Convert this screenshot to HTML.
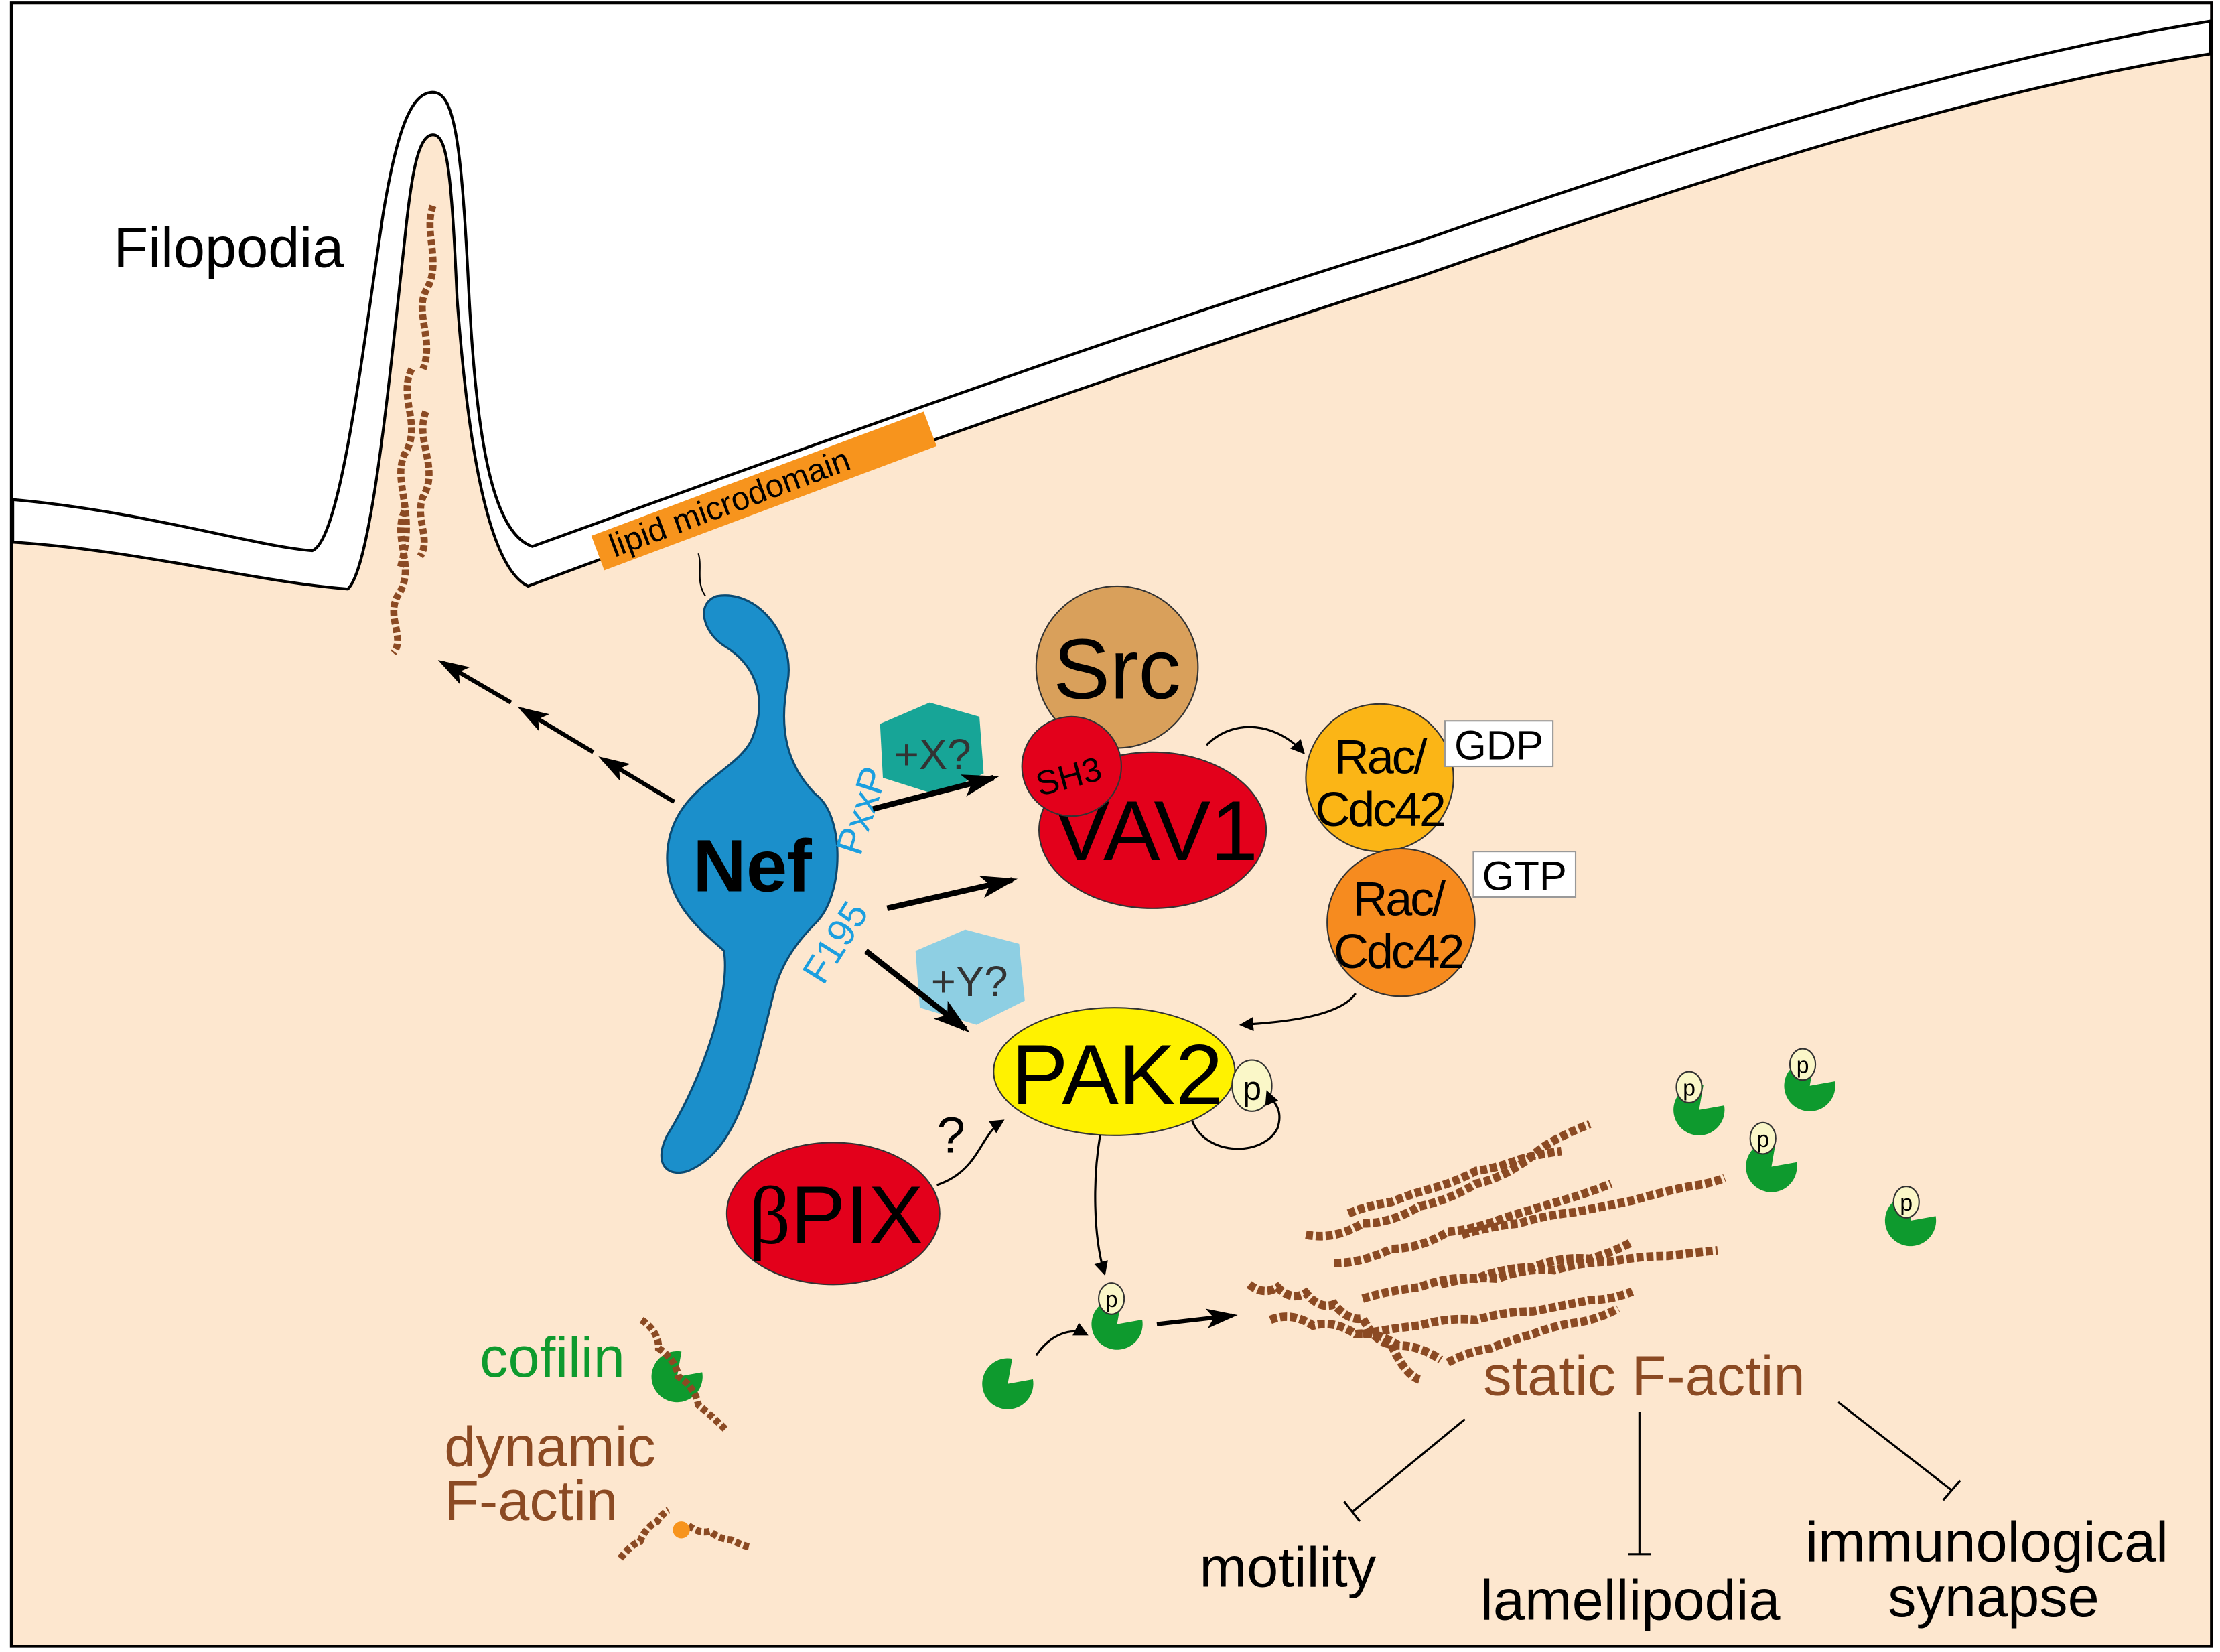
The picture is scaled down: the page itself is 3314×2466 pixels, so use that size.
<!DOCTYPE html>
<html><head><meta charset="utf-8"><style>
html,body{margin:0;padding:0;background:#fff}
svg{display:block}
text{font-family:"Liberation Sans",sans-serif}
</style></head><body>
<svg width="3314" height="2466" viewBox="0 0 1564 1164" preserveAspectRatio="none" xmlns="http://www.w3.org/2000/svg">
<defs>
<marker id="ah" markerWidth="10" markerHeight="10" refX="8" refY="5" orient="auto" markerUnits="userSpaceOnUse"><path d="M0,0 L10,5 L0,10 z" fill="#000"/></marker>
<marker id="ahb" markerWidth="26" markerHeight="20" refX="22" refY="10" orient="auto" markerUnits="userSpaceOnUse"><path d="M0,2 L26,10 L0,18 L6,10 z" fill="#000"/></marker>
<marker id="ahd" markerWidth="22" markerHeight="16" refX="18" refY="8" orient="auto" markerUnits="userSpaceOnUse"><path d="M0,1 L22,8 L0,15 L5,8 z" fill="#000"/></marker>
<path id="cof" d="M0,0 L17.7,-3.1 A18,18 0 1,1 3.1,-17.7 Z" fill="#0E9A2E"/>
</defs>
<rect x="0" y="0" width="1564" height="1164" fill="#fff"/>
<rect x="8" y="2" width="1550" height="1158" fill="#FDE7CF" stroke="#000" stroke-width="2"/>
<path d="M9,3 L1557,3 L1557,15 C1400,40 1200,100 1000,170 C800,230 500,340 375,385 C345,375 335,300 330,200 C325,100 320,65 305,65 C290,65 280,90 270,150 C255,250 240,380 220,388 C180,385 100,360 9,352 Z" fill="#fff"/>
<path d="M9,352 C100,360 180,385 220,388 C240,380 255,250 270,150 C280,90 290,65 305,65 C320,65 325,100 330,200 C335,300 345,375 375,385 C500,340 800,230 1000,170 C1200,100 1400,40 1557,15 L1557,38 C1400,62 1200,125 1000,195 C800,258 500,365 372,413 C345,400 330,320 322,210 C318,120 315,95 305,95 C295,95 290,120 285,170 C275,260 262,400 245,415 C180,410 100,388 9,382 Z" fill="#fff" stroke="#000" stroke-width="2"/>
<text x="80" y="188" font-size="40">Filopodia</text>
<g stroke="#8B4A23" stroke-width="5" fill="none" stroke-dasharray="4 2">
<path d="M305,145 C298,165 312,185 300,205 C292,220 306,240 298,260"/>
<path d="M290,260 C280,280 298,300 285,320 C276,340 294,360 282,400"/>
<path d="M300,290 C292,310 310,330 298,350 C292,365 304,380 296,392"/>
<path d="M285,360 C276,380 294,400 280,420 C272,435 286,450 277,460"/>
</g>
<g transform="translate(425,400) rotate(-20.5)">
<rect x="0" y="-24" width="250" height="26" fill="#F7941D"/>
<text x="10" y="-4" font-size="23">lipid microdomain</text>
</g>
<path d="M492,390 C495,400 490,410 497,420" stroke="#000" fill="none"/>
<g stroke="#000" stroke-width="3" fill="none">
<line x1="475" y1="565" x2="425" y2="535" marker-end="url(#ahd)"/>
<line x1="418" y1="530" x2="368" y2="500" marker-end="url(#ahd)"/>
<line x1="360" y1="495" x2="312" y2="467" marker-end="url(#ahd)"/>
</g>
<path d="M505,420 C490,425 495,445 510,455 C535,470 540,495 530,520 C520,545 470,555 470,605 C470,640 500,660 510,670 C515,700 495,760 470,800 C460,820 470,830 485,825 C520,810 530,760 545,700 C550,680 560,665 575,650 C595,630 595,575 575,560 C555,540 548,515 555,480 C560,450 535,415 505,420 Z" fill="#1B8FCB" stroke="#0b4a72" stroke-width="1.5"/>
<text x="530" y="628" font-size="52" font-weight="bold" text-anchor="middle">Nef</text>
<text transform="translate(606,604) rotate(-72)" font-size="27" fill="#1B9FE0">PxxP</text>
<text transform="translate(580,695) rotate(-58)" font-size="27" fill="#1B9FE0">F195</text>
<circle cx="787" cy="470" r="57" fill="#D9A05B" stroke="#333"/>
<text x="787" y="492" font-size="60" text-anchor="middle">Src</text>
<ellipse cx="812" cy="585" rx="80" ry="55" fill="#E3001B" stroke="#333"/>
<text x="814" y="606" font-size="60" text-anchor="middle">VAV1</text>
<circle cx="755" cy="540" r="35" fill="#E3001B" stroke="#333"/>
<text transform="translate(755,555) rotate(-15)" font-size="24" text-anchor="middle">SH3</text>
<polygon points="620,510 655,495 690,505 693,545 660,560 622,548" fill="#17A597"/>
<text x="657" y="542" font-size="30" fill="#333" text-anchor="middle">+X?</text>
<polygon points="645,670 680,655 718,665 722,705 688,722 648,710" fill="#8ECFE3"/>
<text x="683" y="702" font-size="30" fill="#333" text-anchor="middle">+Y?</text>
<circle cx="972" cy="548" r="52" fill="#FBB516" stroke="#333"/>
<text x="972" y="545" font-size="34" letter-spacing="-1.5" text-anchor="middle">Rac/</text>
<text x="972" y="582" font-size="34" letter-spacing="-1.5" text-anchor="middle">Cdc42</text>
<rect x="1018" y="508" width="76" height="32" fill="#fff" stroke="#999"/>
<text x="1056" y="535" font-size="29" text-anchor="middle">GDP</text>
<circle cx="987" cy="650" r="52" fill="#F68B1F" stroke="#333"/>
<text x="985" y="645" font-size="34" letter-spacing="-1.5" text-anchor="middle">Rac/</text>
<text x="985" y="682" font-size="34" letter-spacing="-1.5" text-anchor="middle">Cdc42</text>
<rect x="1038" y="600" width="72" height="32" fill="#fff" stroke="#999"/>
<text x="1074" y="627" font-size="29" text-anchor="middle">GTP</text>
<ellipse cx="785" cy="755" rx="85" ry="45" fill="#FFF200" stroke="#333"/>
<text x="787" y="778" font-size="60" text-anchor="middle">PAK2</text>
<ellipse cx="882" cy="765" rx="14" ry="18" fill="#FAF7C8" stroke="#333"/>
<text x="882" y="775" font-size="24" text-anchor="middle">p</text>
<ellipse cx="587" cy="855" rx="75" ry="50" fill="#E3001B" stroke="#333"/>
<text x="589" y="876" font-size="58" text-anchor="middle"><tspan font-family="Liberation Serif">β</tspan>PIX</text>
<text x="660" y="812" font-size="36" font-family="Liberation Serif">?</text>
<g stroke="#000" fill="none">
<line x1="615" y1="570" x2="700" y2="548" stroke-width="4" marker-end="url(#ahb)"/>
<line x1="625" y1="640" x2="713" y2="620" stroke-width="4" marker-end="url(#ahb)"/>
<line x1="610" y1="670" x2="680" y2="725" stroke-width="4" marker-end="url(#ahb)"/>
<path d="M850,525 C870,505 900,510 918,530" stroke-width="1.5" marker-end="url(#ah)"/>
<path d="M955,700 C945,715 910,720 875,722" stroke-width="1.5" marker-end="url(#ah)"/>
<path d="M660,835 C690,825 690,800 706,790" stroke-width="1.5" marker-end="url(#ah)"/>
<path d="M840,790 C850,815 890,815 900,795 C905,780 895,775 893,770" stroke-width="1.5" marker-end="url(#ah)"/>
<path d="M775,800 C770,830 770,870 778,897" stroke-width="1.5" marker-end="url(#ah)"/>
<path d="M730,955 C740,940 755,935 765,940" stroke-width="1.5" marker-end="url(#ah)"/>
<line x1="815" y1="933" x2="868" y2="927" stroke-width="3" marker-end="url(#ahd)"/>
<line x1="1032" y1="1000" x2="953" y2="1065" stroke-width="1.5"/>
<line x1="947" y1="1058" x2="958" y2="1072" stroke-width="1.5"/>
<line x1="1155" y1="995" x2="1155" y2="1095" stroke-width="1.5"/>
<line x1="1147" y1="1095" x2="1163" y2="1095" stroke-width="1.5"/>
<line x1="1295" y1="988" x2="1375" y2="1050" stroke-width="1.5"/>
<line x1="1369" y1="1057" x2="1381" y2="1043" stroke-width="1.5"/>
</g>
<g stroke="#8B4A23" stroke-width="6" fill="none" stroke-dasharray="5 2">
<path d="M880,905 q10,8 20,2 q10,10 20,4 q10,12 20,8 q10,12 20,10 q10,18 20,18 q10,22 20,25"/>
<path d="M895,930 q15,-6 30,4 q15,-4 30,6 q15,-2 30,8 q15,0 30,10"/>
<path d="M920,870 q20,4 40,-8 q20,0 40,-12 q20,-4 40,-16 q20,-4 40,-20 q10,-10 40,-22"/>
<path d="M940,890 q20,0 40,-10 q20,0 40,-12 q20,-2 40,-10 q20,-6 40,-12 q15,-4 35,-12"/>
<path d="M960,915 q20,-6 40,-8 q20,-8 40,-6 q20,-8 40,-8 q20,-8 40,-6 q15,-4 30,-12"/>
<path d="M1015,905 q20,-6 40,-4 q20,-8 40,-6 q20,-6 40,-6 q20,-4 40,-4 q15,-2 35,-4"/>
<path d="M960,940 q20,-4 40,-6 q20,-6 40,-4 q20,-6 40,-6 q20,-4 40,-8 q15,0 30,-6"/>
<path d="M1020,960 q15,-8 30,-10 q15,-6 30,-10 q15,-6 30,-8 q15,-2 30,-10"/>
<path d="M1030,870 q20,-6 40,-8 q20,-6 40,-8 q20,-4 40,-8 q20,-6 40,-10 q15,-2 25,-6"/>
<path d="M950,855 q15,-6 30,-8 q15,-6 30,-10 q15,-4 30,-12 q15,-2 30,-8 q15,-4 30,-6"/>
</g>
<use href="#cof" x="710" y="975"/>
<use href="#cof" x="787" y="933"/>
<use href="#cof" x="477" y="970"/>
<use href="#cof" x="1197" y="782"/>
<use href="#cof" x="1275" y="765"/>
<use href="#cof" x="1248" y="822"/>
<use href="#cof" x="1346" y="860"/>
<g fill="#FAF7C8" stroke="#333">
<ellipse cx="783" cy="915" rx="9" ry="11"/>
<ellipse cx="1190" cy="766" rx="9" ry="11"/>
<ellipse cx="1270" cy="750" rx="9" ry="11"/>
<ellipse cx="1242" cy="802" rx="9" ry="11"/>
<ellipse cx="1343" cy="847" rx="9" ry="11"/>
</g>
<g font-size="16" text-anchor="middle">
<text x="783" y="921">p</text><text x="1190" y="772">p</text><text x="1270" y="756">p</text><text x="1242" y="808">p</text><text x="1343" y="853">p</text>
</g>
<g stroke="#8B4A23" stroke-width="5" fill="none" stroke-dasharray="4 2">
<path d="M452,930 q12,8 12,20 q12,8 14,20 q12,8 14,20 q10,8 20,18"/>
<path d="M437,1098 q8,-10 14,-12 q4,-10 12,-14 q4,-6 8,-8"/>
<path d="M485,1075 q8,6 15,4 q8,6 15,6 q8,4 13,5"/>
</g>
<circle cx="480" cy="1078" r="6" fill="#F7941D"/>
<text x="338" y="970" font-size="40" fill="#0E9A2E">cofilin</text>
<text x="313" y="1033" font-size="40" fill="#8B4A23">dynamic</text>
<text x="313" y="1071" font-size="40" fill="#8B4A23">F-actin</text>
<text x="1045" y="983" font-size="40" fill="#8B4A23">static F-actin</text>
<text x="845" y="1118" font-size="40">motility</text>
<text x="1043" y="1141" font-size="40">lamellipodia</text>
<text x="1272" y="1100" font-size="40">immunological</text>
<text x="1330" y="1139" font-size="40">synapse</text>
</svg>
</body></html>
